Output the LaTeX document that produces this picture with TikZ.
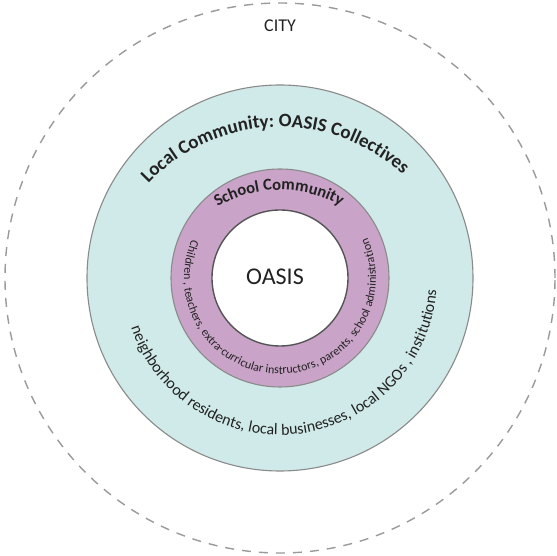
\documentclass[tikz,border=0pt]{standalone}
\usepackage{fontspec}
\setmainfont{Carlito}
\usetikzlibrary{decorations.text}
\definecolor{ringteal}{HTML}{D0EAE9}
\definecolor{ringmauve}{HTML}{C9A4C8}
\definecolor{ringline}{HTML}{8A8A8A}
\definecolor{coreline}{HTML}{555555}
\definecolor{cityline}{HTML}{9A9A9A}
\definecolor{ink}{HTML}{222222}
\begin{document}
\begin{tikzpicture}[x=1pt,y=1pt,
  cityring/.style={draw=cityline, line width=1.4pt, dash pattern=on 9pt off 8pt},
  localring/.style={draw=ringline, line width=1.1pt, fill=ringteal},
  schoolring/.style={draw=ringline, line width=1.1pt, fill=ringmauve},
  corering/.style={draw=coreline, line width=1.4pt, fill=white},
  arclabel/.style={decorate, decoration={text along path, text align=center, text color=ink}},
  plainlabel/.style={text=ink, inner sep=0pt}
]
\useasboundingbox (-280pt,-278pt) rectangle (277pt,278pt);

% concentric rings
\draw[cityring] (0pt,0pt) circle[radius=275pt];
\draw[localring] (0pt,0pt) circle[radius=193pt];
\draw[schoolring] (0pt,0pt) circle[radius=109pt];
\draw[corering] (0pt,0pt) circle[radius=68pt];

% straight labels
\node[plainlabel] (city) at (0pt,252pt) {\fontsize{18}{20}\selectfont CITY};
\node[plainlabel] (oasis) at (-5pt,1pt) {\fontsize{24}{26}\selectfont OASIS};

% curved titles
\path[arclabel, decoration={text={|\fontsize{19}{22}\selectfont\bfseries|Local Community: OASIS Collectives}}]
  (0pt,-30pt) ++(182:181pt) arc[start angle=182, end angle=2, radius=181pt];
\path[arclabel, decoration={text={|\fontsize{16.5}{19}\selectfont\bfseries|School Community}}]
  (0pt,-35pt) ++(180.5:123pt) arc[start angle=180.5, end angle=0.5, radius=123pt];

% curved member lists
\path[arclabel, decoration={text={|\fontsize{12}{14}\selectfont|Children , teachers, extra-curricular instructors, parents, school administration}}]
  (0pt,0pt) ++(90.5:96pt) arc[start angle=90.5, end angle=450.5, radius=96pt];
\path[arclabel, decoration={text={|\fontsize{16}{18}\selectfont|neighborhood residents, local businesses, local NGOs , institutions}}]
  (0pt,0pt) ++(187:157pt) arc[start angle=187, end angle=367, radius=157pt];
\end{tikzpicture}
\end{document}
